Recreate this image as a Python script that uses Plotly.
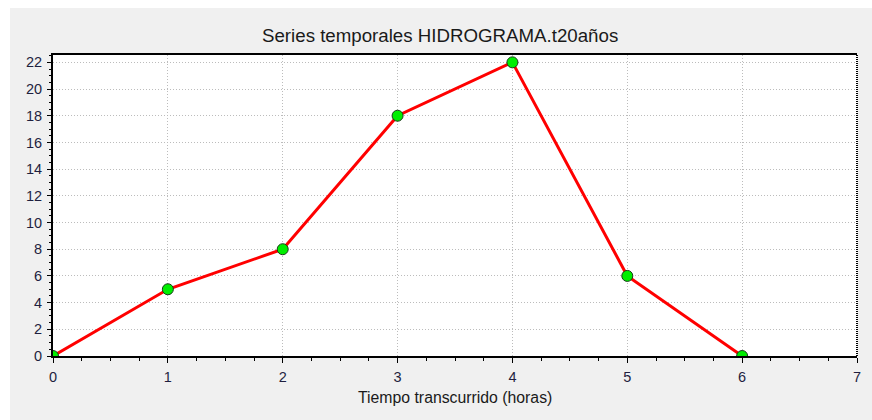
import plotly.graph_objects as go

# Hydrograph for the 20-year return period
horas = [0, 1, 2, 3, 4, 5, 6]
caudal = [0, 5, 8, 18, 22, 6, 0]

x_ticks = [0, 1, 2, 3, 4, 5, 6, 7]
y_ticks = [0, 2, 4, 6, 8, 10, 12, 14, 16, 18, 20, 22]

titulo = "Series temporales HIDROGRAMA.t20años"
etiqueta_x = "Tiempo transcurrido (horas)"

FONT = "Liberation Sans, Arial, sans-serif"
TICK_COLOR = "#1f1f3f"
GRID = "#bcbcbc"

fig = go.Figure()
fig.add_trace(go.Scatter(
    x=horas, y=caudal,
    mode="lines+markers",
    line=dict(color="#ff0000", width=3),
    marker=dict(color="#00ee00", size=11, symbol="circle",
                line=dict(color="#1a3a1a", width=1)),
    cliponaxis=True,
    hoverinfo="x+y",
))

fig.update_layout(
    width=872, height=420,
    margin=dict(l=53, r=15, t=55, b=64),
    paper_bgcolor="#f0f0f0",
    plot_bgcolor="#ffffff",
    showlegend=False,
    title=dict(text=titulo, x=0.4815, xref="paper", xanchor="center",
               y=1 - 35 / 420, yanchor="middle",
               font=dict(family=FONT, size=18.7, color="#1a1a1a")),
    font=dict(family=FONT, size=14, color=TICK_COLOR),
)

fig.update_xaxes(
    range=[0, 7], tickvals=x_ticks, ticktext=[str(v) for v in x_ticks],
    showgrid=True, gridcolor=GRID, gridwidth=1, griddash="1px,2px",
    showline=True, linecolor="black", linewidth=2, mirror=True,
    ticks="outside", ticklen=5, tickwidth=1, tickcolor="black",
    ticklabelstandoff=2,
    minor=dict(dtick=0.25, ticks="outside", ticklen=3, tickcolor="black", showgrid=False),
    tickfont=dict(family=FONT, size=14.5, color=TICK_COLOR),
    zeroline=False, fixedrange=True,
)
fig.update_yaxes(
    range=[0, 22.55], tickvals=y_ticks, ticktext=[str(v) for v in y_ticks],
    showgrid=True, gridcolor=GRID, gridwidth=1, griddash="1px,2px",
    showline=True, linecolor="black", linewidth=2, mirror=False,
    ticks="outside", ticklen=4, tickwidth=1, tickcolor="black",
    ticklabelstandoff=2,
    minor=dict(dtick=0.5, ticks="outside", ticklen=2, tickcolor="black", showgrid=False),
    tickfont=dict(family=FONT, size=14.5, color=TICK_COLOR),
    zeroline=False, fixedrange=True,
)

# dotted right border of the plot frame
fig.add_shape(type="line", xref="paper", yref="paper", x0=1, x1=1, y0=0, y1=1,
              line=dict(color="black", width=2, dash="1px,1px"))

# thin white strips framing the grey panel (top and left)
fig.add_shape(type="rect", xref="paper", yref="paper", layer="above",
              x0=-0.07, x1=1.05, y0=1.156, y1=1.2,
              line=dict(width=0), fillcolor="#ffffff")
fig.add_shape(type="rect", xref="paper", yref="paper", layer="above",
              x0=-0.07, x1=-0.0535, y0=-0.25, y1=1.2,
              line=dict(width=0), fillcolor="#ffffff")

fig.add_annotation(text=etiqueta_x, xref="paper", yref="paper",
                   x=0.5, y=-(397 - 356) / 301, xanchor="center", yanchor="middle",
                   showarrow=False, font=dict(family=FONT, size=15.8, color="#1a1a1a"))

fig.write_html("out.html", config={"displayModeBar": False})
